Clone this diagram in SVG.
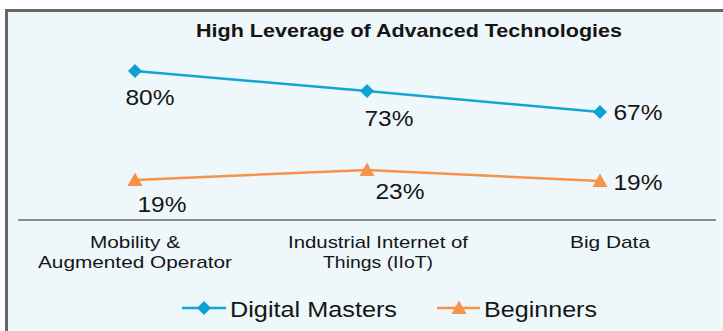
<svg xmlns="http://www.w3.org/2000/svg" width="723" height="331" viewBox="0 0 723 331">
<style>
.t{font-family:"Liberation Sans",Arial,sans-serif;fill:#151515}
.v{font-size:22px;text-anchor:middle}
.c{font-size:17px;text-anchor:middle}
.lg{font-size:22.5px}
.blue{stroke:#12a5d3;stroke-width:2.5;fill:none}
.orange{stroke:#f7924a;stroke-width:2.5;fill:none}
</style>
<defs>
<path id="dia" d="M0,-7 L7,0 L0,7 L-7,0 Z" fill="#0ea1d1"/>
<path id="tri" d="M0,-7.5 L7.5,6 L-7.5,6 Z" fill="#f7924a"/>
</defs>
<rect x="6.5" y="10.5" width="730" height="340" fill="#eef7fa" stroke="#666" stroke-width="3"/>
<text class="t" x="409" y="37" font-size="18.5" font-weight="bold" text-anchor="middle" textLength="426" lengthAdjust="spacingAndGlyphs">High Leverage of Advanced Technologies</text>
<line x1="18" y1="220" x2="716" y2="220" stroke="#8a8a8a" stroke-width="2"/>
<g id="connectors">
<polyline class="blue" points="135,71 367,91 600,112"/>
<polyline class="orange" points="135,180 367,170 600,181"/>
</g>
<g id="dm-mobility"><use href="#dia" x="135" y="71"/><text class="t v" x="150" y="105" textLength="49" lengthAdjust="spacingAndGlyphs">80%</text></g>
<g id="dm-iiot"><use href="#dia" x="367" y="91"/><text class="t v" x="389" y="125.5" textLength="49" lengthAdjust="spacingAndGlyphs">73%</text></g>
<g id="dm-bigdata"><use href="#dia" x="600" y="112"/><text class="t v" x="638" y="119.5" textLength="49" lengthAdjust="spacingAndGlyphs">67%</text></g>
<g id="bg-mobility"><use href="#tri" x="135" y="180"/><text class="t v" x="162" y="211.5" textLength="49" lengthAdjust="spacingAndGlyphs">19%</text></g>
<g id="bg-iiot"><use href="#tri" x="367" y="170"/><text class="t v" x="400" y="198.5" textLength="49" lengthAdjust="spacingAndGlyphs">23%</text></g>
<g id="bg-bigdata"><use href="#tri" x="600" y="181"/><text class="t v" x="638" y="189.5" textLength="49" lengthAdjust="spacingAndGlyphs">19%</text></g>
<g id="cat-mobility"><text class="t c" x="135" y="247.5" textLength="90" lengthAdjust="spacingAndGlyphs">Mobility &amp;</text><text class="t c" x="135" y="267.5" textLength="194" lengthAdjust="spacingAndGlyphs">Augmented Operator</text></g>
<g id="cat-iiot"><text class="t c" x="378" y="247.5" textLength="180" lengthAdjust="spacingAndGlyphs">Industrial Internet of</text><text class="t c" x="378" y="267.5" textLength="110" lengthAdjust="spacingAndGlyphs">Things (IIoT)</text></g>
<g id="cat-bigdata"><text class="t c" x="610" y="247.5" textLength="80" lengthAdjust="spacingAndGlyphs">Big Data</text></g>
<g id="legend-dm"><line class="blue" x1="182" y1="308" x2="226" y2="308"/><use href="#dia" x="204" y="308"/><text class="t lg" x="230" y="316.5" textLength="167" lengthAdjust="spacingAndGlyphs">Digital Masters</text></g>
<g id="legend-bg"><line class="orange" x1="437" y1="308" x2="480" y2="308"/><use href="#tri" x="459" y="308"/><text class="t lg" x="484" y="316.5" textLength="113" lengthAdjust="spacingAndGlyphs">Beginners</text></g>
</svg>
